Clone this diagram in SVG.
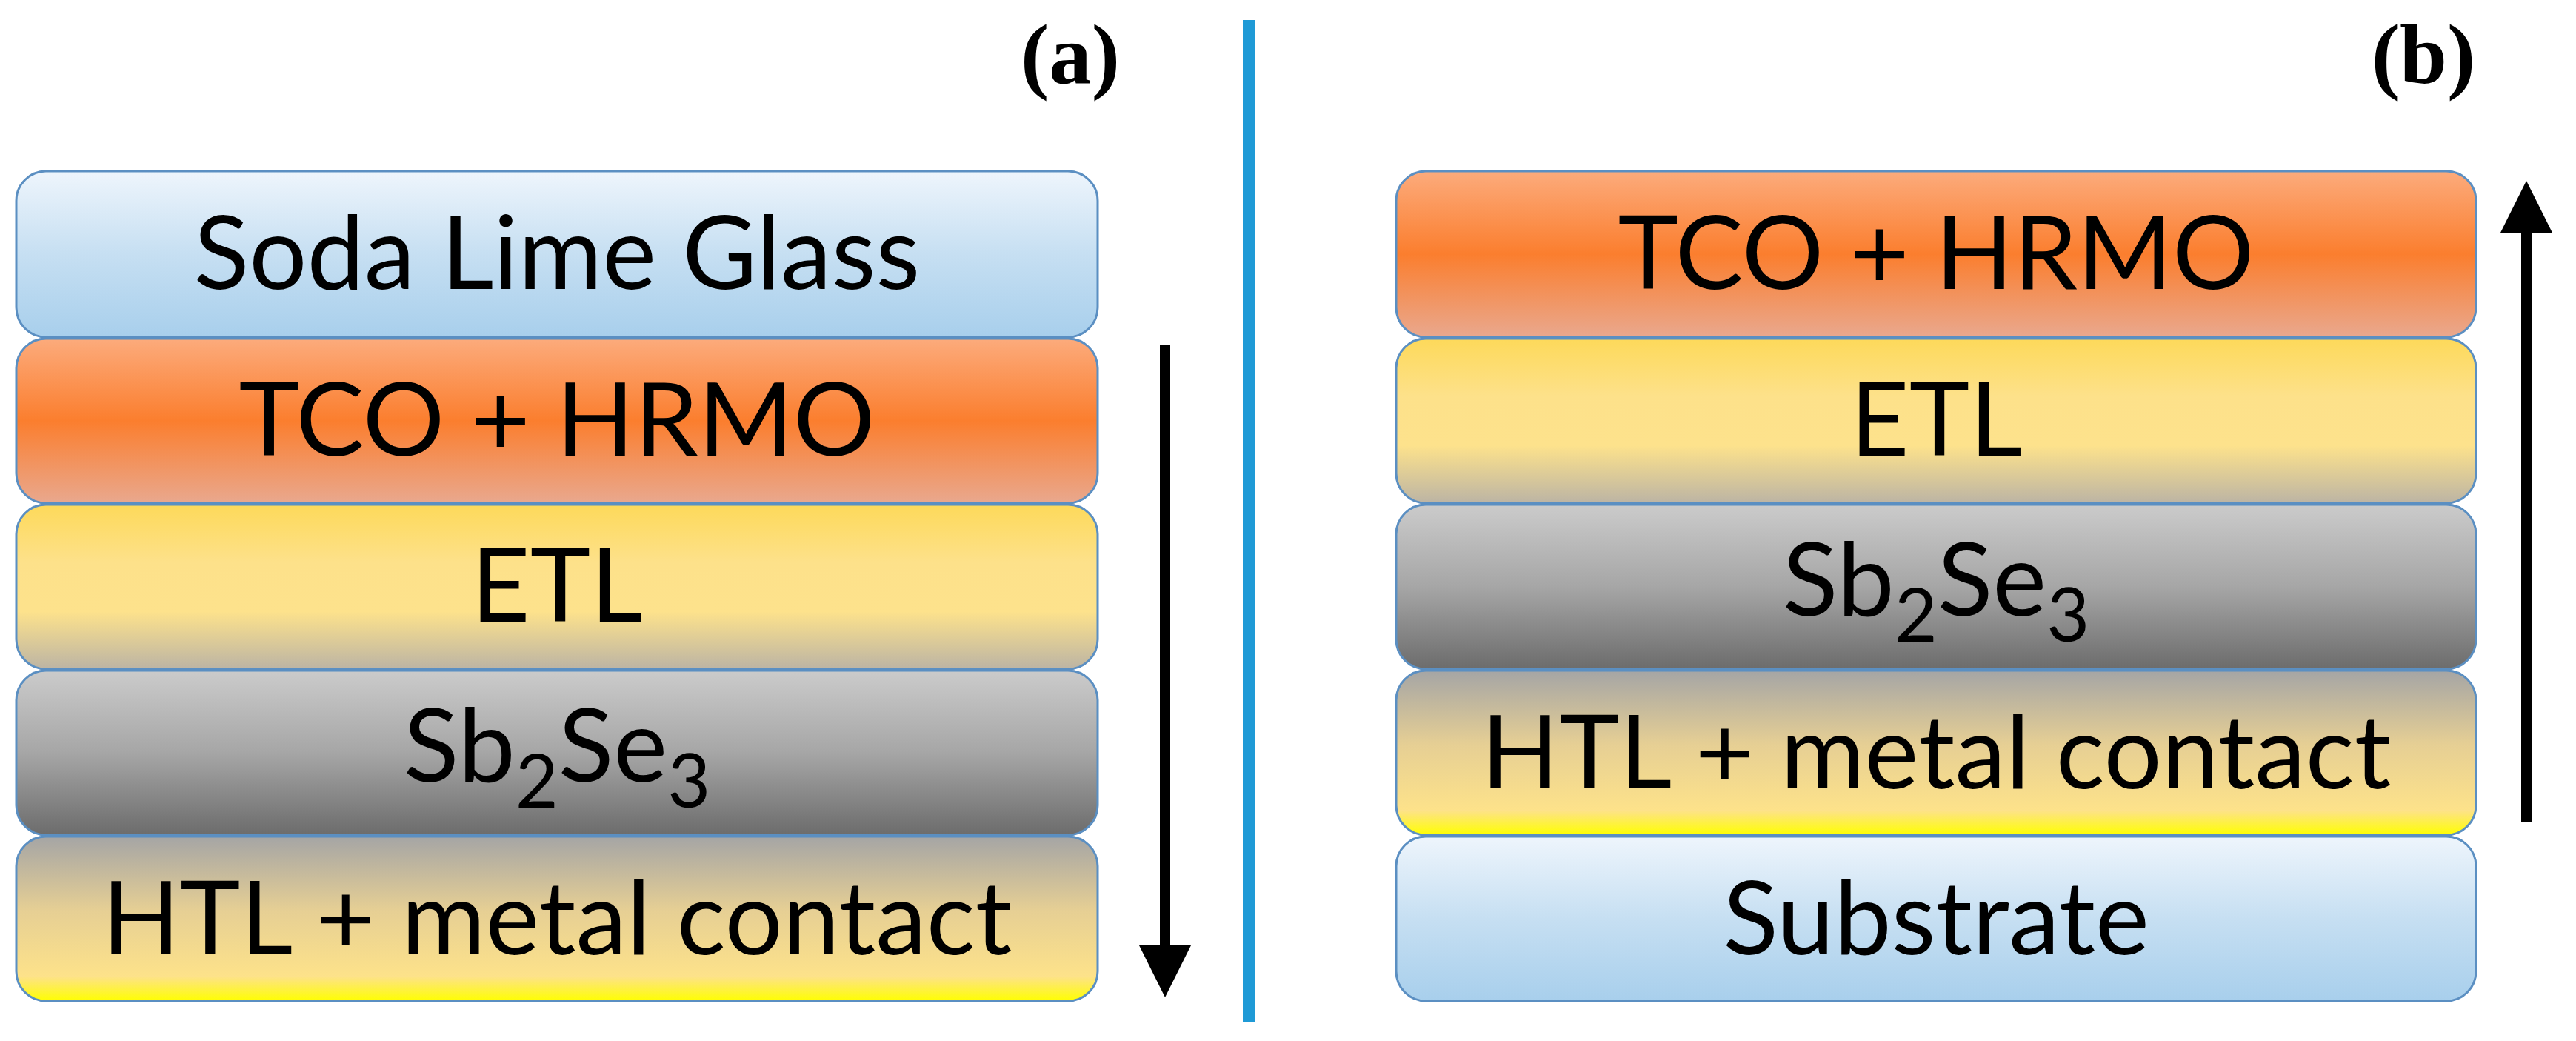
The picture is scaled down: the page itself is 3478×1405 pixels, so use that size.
<svg xmlns="http://www.w3.org/2000/svg" width="3478" height="1405" viewBox="0 0 3478 1405">
<defs>
<linearGradient id="gBlue" x1="0" y1="0" x2="0" y2="1"><stop offset="0" stop-color="#eef5fc"/><stop offset="0.5" stop-color="#c6dff2"/><stop offset="1" stop-color="#a8cfec"/></linearGradient>
<linearGradient id="gOr" x1="0" y1="0" x2="0" y2="1"><stop offset="0" stop-color="#fcab7c"/><stop offset="0.5" stop-color="#fb7e2e"/><stop offset="1" stop-color="#e9a88e"/></linearGradient>
<linearGradient id="gYe" x1="0" y1="0" x2="0" y2="1"><stop offset="0" stop-color="#fdd95a"/><stop offset="0.35" stop-color="#fde18a"/><stop offset="0.65" stop-color="#fde28c"/><stop offset="1" stop-color="#bcb4a4"/></linearGradient>
<linearGradient id="gGr" x1="0" y1="0" x2="0" y2="1"><stop offset="0" stop-color="#cbcbcb"/><stop offset="0.5" stop-color="#a6a6a6"/><stop offset="1" stop-color="#6c6c6c"/></linearGradient>
<linearGradient id="gHt" x1="0" y1="0" x2="0" y2="1"><stop offset="0" stop-color="#a5a5a5"/><stop offset="0.45" stop-color="#e6cf94"/><stop offset="0.85" stop-color="#fde28a"/><stop offset="1" stop-color="#ffff00"/></linearGradient>
<marker id="ah" viewBox="0 0 10 10" refX="2" refY="5" markerWidth="5" markerHeight="5" orient="auto"><path d="M0,0 L10,5 L0,10 z" fill="#000"/></marker>
</defs>
<style>
.l{stroke:#5b8fc2;stroke-width:3}
.t{font-family:Lato,"Open Sans",sans-serif;font-size:138px;text-anchor:middle;fill:#000}
.s{font-size:100px}
.lab{font-family:"Liberation Serif",serif;font-weight:bold;font-size:115px;text-anchor:middle}
</style>
<rect width="3478" height="1405" fill="#fff"/>
<g id="a-glass"><rect class="l" x="22" y="231" width="1460" height="224" rx="40" fill="url(#gBlue)"/><text class="t" x="752" y="390">Soda Lime Glass</text></g>
<g id="a-tco"><rect class="l" x="22" y="457" width="1460" height="222" rx="40" fill="url(#gOr)"/><text class="t" x="752" y="615">TCO + HRMO</text></g>
<g id="a-etl"><rect class="l" x="22" y="681" width="1460" height="222" rx="40" fill="url(#gYe)"/><text class="t" x="752" y="839">ETL</text></g>
<g id="a-sb"><rect class="l" x="22" y="905" width="1460" height="222" rx="40" fill="url(#gGr)"/><text class="t" x="752" y="1055">Sb<tspan class="s" dy="35">2</tspan><tspan dy="-35">Se</tspan><tspan class="s" dy="35">3</tspan></text></g>
<g id="a-htl"><rect class="l" x="22" y="1129" width="1460" height="222" rx="40" fill="url(#gHt)"/><text class="t" x="752" y="1288">HTL + metal contact</text></g>
<g id="b-tco"><rect class="l" x="1885" y="231" width="1458" height="224" rx="40" fill="url(#gOr)"/><text class="t" x="2614" y="390">TCO + HRMO</text></g>
<g id="b-etl"><rect class="l" x="1885" y="457" width="1458" height="222" rx="40" fill="url(#gYe)"/><text class="t" x="2614" y="615">ETL</text></g>
<g id="b-sb"><rect class="l" x="1885" y="681" width="1458" height="222" rx="40" fill="url(#gGr)"/><text class="t" x="2614" y="831">Sb<tspan class="s" dy="35">2</tspan><tspan dy="-35">Se</tspan><tspan class="s" dy="35">3</tspan></text></g>
<g id="b-htl"><rect class="l" x="1885" y="905" width="1458" height="222" rx="40" fill="url(#gHt)"/><text class="t" x="2614" y="1064">HTL + metal contact</text></g>
<g id="b-sub"><rect class="l" x="1885" y="1129" width="1458" height="222" rx="40" fill="url(#gBlue)"/><text class="t" x="2614" y="1288">Substrate</text></g>
<g id="labels"><text class="lab" x="1445" y="112">(a)</text><text class="lab" x="3272" y="112">(b)</text></g>
<g id="connectors">
<line x1="1686" y1="27" x2="1686" y2="1380" stroke="#1f9ad6" stroke-width="16"/>
<line x1="1573" y1="466" x2="1573" y2="1290" stroke="#000" stroke-width="14" marker-end="url(#ah)"/>
<line x1="3411" y1="1109" x2="3411" y2="300" stroke="#000" stroke-width="14" marker-end="url(#ah)"/>
</g>
</svg>
